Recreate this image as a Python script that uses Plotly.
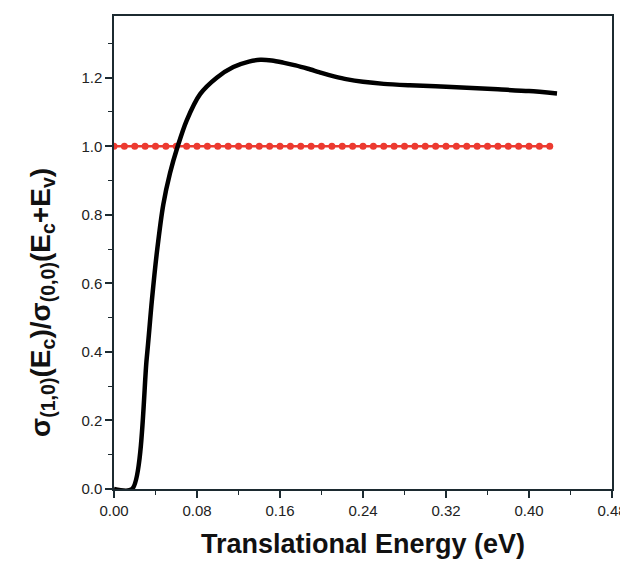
import plotly.graph_objects as go

# Black curve: ratio sigma(1,0)(Ec)/sigma(0,0)(Ec+Ev)
energy = [0.0, 0.0175, 0.0315, 0.0365, 0.0415, 0.0475, 0.054, 0.0614, 0.070,
          0.083, 0.099, 0.115, 0.130, 0.141, 0.152, 0.163, 0.175, 0.187,
          0.200, 0.212, 0.225, 0.240, 0.260, 0.285, 0.310, 0.340, 0.370,
          0.400, 0.427]
ratio = [0.0, 0.0, 0.38, 0.55, 0.695, 0.83, 0.922, 1.0, 1.075,
         1.152, 1.200, 1.231, 1.247, 1.252, 1.250, 1.244, 1.236, 1.226,
         1.214, 1.204, 1.195, 1.188, 1.182, 1.178, 1.175, 1.171, 1.166,
         1.161, 1.154]

# Red reference line at 1.0
ref_energy = [round(i * 0.01, 2) for i in range(43)]
ref_ratio = [1.0] * len(ref_energy)

x_ticks = [0.00, 0.08, 0.16, 0.24, 0.32, 0.40, 0.48]
y_ticks = [0.0, 0.2, 0.4, 0.6, 0.8, 1.0, 1.2]

FONT = "Arial, Liberation Sans, sans-serif"
AXC = "#1c2a30"

fig = go.Figure()
fig.add_trace(go.Scatter(
    x=ref_energy, y=ref_ratio, mode="lines+markers",
    line=dict(color="#ec3a30", width=2.5),
    marker=dict(color="#ec3a30", size=7, symbol="circle"),
    showlegend=False, hoverinfo="skip"))
fig.add_trace(go.Scatter(
    x=energy, y=ratio, mode="lines",
    line=dict(color="black", width=4.5, shape="spline", smoothing=0.75),
    showlegend=False))

fig.update_layout(
    width=628, height=561,
    margin=dict(l=106, r=24, t=6, b=80),
    plot_bgcolor="white", paper_bgcolor="white",
    font=dict(family=FONT, size=15, color="#222222"),
    xaxis=dict(
        range=[0, 0.48], tickvals=x_ticks,
        ticktext=[f"{v:.2f}" for v in x_ticks],
        showgrid=False, zeroline=False,
        showline=True, linecolor=AXC, linewidth=1.5, mirror=True,
        ticks="outside", ticklen=7, tickwidth=1.5, tickcolor=AXC,
        minor=dict(dtick=0.04, tick0=0, ticks="outside", ticklen=4,
                   tickwidth=1.2, tickcolor=AXC, showgrid=False),
        tickfont=dict(size=15, family=FONT, color="#222222"),
        title=dict(text="<b>Translational Energy (eV)</b>",
                   font=dict(size=27, family=FONT, color="#111111"),
                   standoff=16),
    ),
    yaxis=dict(
        range=[0, 1.38], tickvals=y_ticks,
        ticktext=[f"{v:.1f}" for v in y_ticks],
        showgrid=False, zeroline=False,
        showline=True, linecolor=AXC, linewidth=1.5, mirror=True,
        ticks="outside", ticklen=7, tickwidth=1.5, tickcolor=AXC,
        minor=dict(dtick=0.1, tick0=0, ticks="outside", ticklen=4,
                   tickwidth=1.2, tickcolor=AXC, showgrid=False),
        tickfont=dict(size=15, family=FONT, color="#222222"),
    ),
    annotations=[dict(
        text="<b>σ<sub>(1,0)</sub>(E<sub>c</sub>)/σ<sub>(0,0)</sub>(E<sub>c</sub>+E<sub>v</sub>)</b>",
        xref="paper", yref="paper", x=-0.145, y=0.395,
        xanchor="center", yanchor="middle", textangle=-90, showarrow=False,
        font=dict(size=28, family=FONT, color="#111111"))],
)

fig.write_html("out.html")
